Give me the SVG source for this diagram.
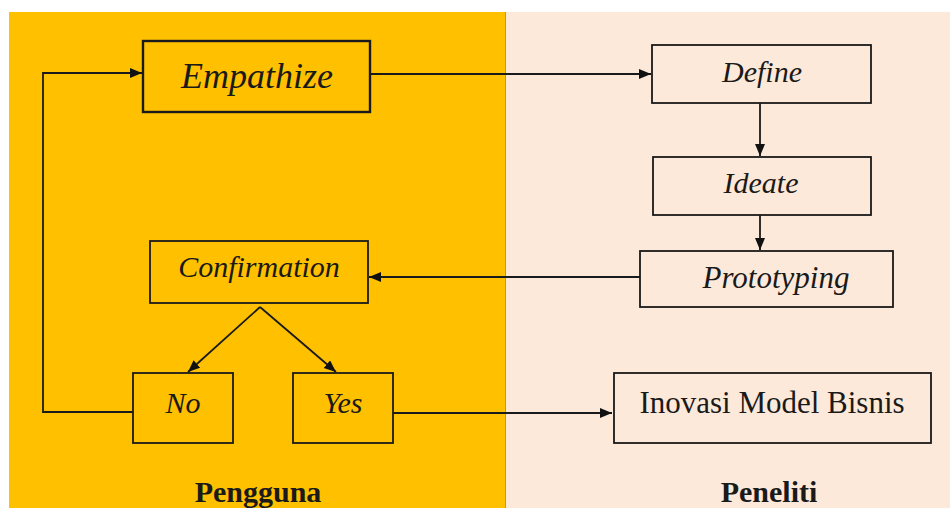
<svg xmlns="http://www.w3.org/2000/svg" width="950" height="508" viewBox="0 0 950 508">
<style>
.box{stroke:#1a1a1a;stroke-width:1.8;}
.y{fill:#FFC000;}
.p{fill:#FDE9D9;}
.it{font-family:"Liberation Serif","Times New Roman",serif;font-style:italic;fill:#1a1a1a;text-anchor:middle;font-size:30px;}
.rg{font-family:"Liberation Serif","Times New Roman",serif;fill:#1a1a1a;text-anchor:middle;font-size:31px;}
.bd{font-family:"Liberation Serif","Times New Roman",serif;font-weight:bold;fill:#1a1a1a;text-anchor:middle;font-size:30px;}
.ln{fill:none;stroke:#1a1a1a;stroke-width:1.8;}
</style>
<defs>
<marker id="ah" markerWidth="13" markerHeight="11" refX="12" refY="5" orient="auto" markerUnits="userSpaceOnUse">
<path d="M0,0 L12,5 L0,10 Z" fill="#111"/>
</marker>
</defs>
<rect x="0" y="0" width="950" height="508" fill="#ffffff"/>
<g id="panels">
<rect x="9" y="12" width="497" height="496" fill="#FFC000"/>
<rect x="506" y="12" width="444" height="496" fill="#FDE9D9"/>
<line x1="505.5" y1="12" x2="505.5" y2="508" stroke="#9aa83a" stroke-width="1"/>
</g>
<g id="connectors">
<line class="ln" x1="370" y1="74" x2="651" y2="74" marker-end="url(#ah)"/>
<line class="ln" x1="760" y1="103" x2="760" y2="156" marker-end="url(#ah)"/>
<line class="ln" x1="760" y1="215" x2="760" y2="250" marker-end="url(#ah)"/>
<line class="ln" x1="640" y1="277" x2="369" y2="277" marker-end="url(#ah)"/>
<line class="ln" x1="260" y1="307" x2="188" y2="372" marker-end="url(#ah)"/>
<line class="ln" x1="260" y1="307" x2="336" y2="372" marker-end="url(#ah)"/>
<polyline class="ln" points="133,412 43,412 43,73 142,73" marker-end="url(#ah)"/>
<line class="ln" x1="393" y1="413" x2="612" y2="413" marker-end="url(#ah)"/>
</g>
<g id="empathize">
<rect class="box y" x="143" y="41" width="227" height="71" style="stroke-width:2.4"/>
<text class="it" x="257" y="88" style="font-size:36px">Empathize</text>
</g>
<g id="define">
<rect class="box p" x="652" y="45" width="219" height="58"/>
<text class="it" x="762" y="82">Define</text>
</g>
<g id="ideate">
<rect class="box p" x="653" y="157" width="218" height="58"/>
<text class="it" x="761" y="193">Ideate</text>
</g>
<g id="prototyping">
<rect class="box p" x="640" y="251" width="253" height="56"/>
<text class="it" x="776" y="288" style="font-size:31px">Prototyping</text>
</g>
<g id="confirmation">
<rect class="box y" x="150" y="241" width="218" height="62"/>
<text class="it" x="259" y="277">Confirmation</text>
</g>
<g id="no">
<rect class="box y" x="133" y="373" width="100" height="70"/>
<text class="it" x="183" y="413">No</text>
</g>
<g id="yes">
<rect class="box y" x="293" y="373" width="100" height="70"/>
<text class="it" x="343" y="413">Yes</text>
</g>
<g id="inovasi">
<rect class="box p" x="614" y="373" width="317" height="70"/>
<text class="rg" x="772" y="413">Inovasi Model Bisnis</text>
</g>
<g id="labels">
<text class="bd" x="258" y="502">Pengguna</text>
<text class="bd" x="769" y="502">Peneliti</text>
</g>
</svg>
